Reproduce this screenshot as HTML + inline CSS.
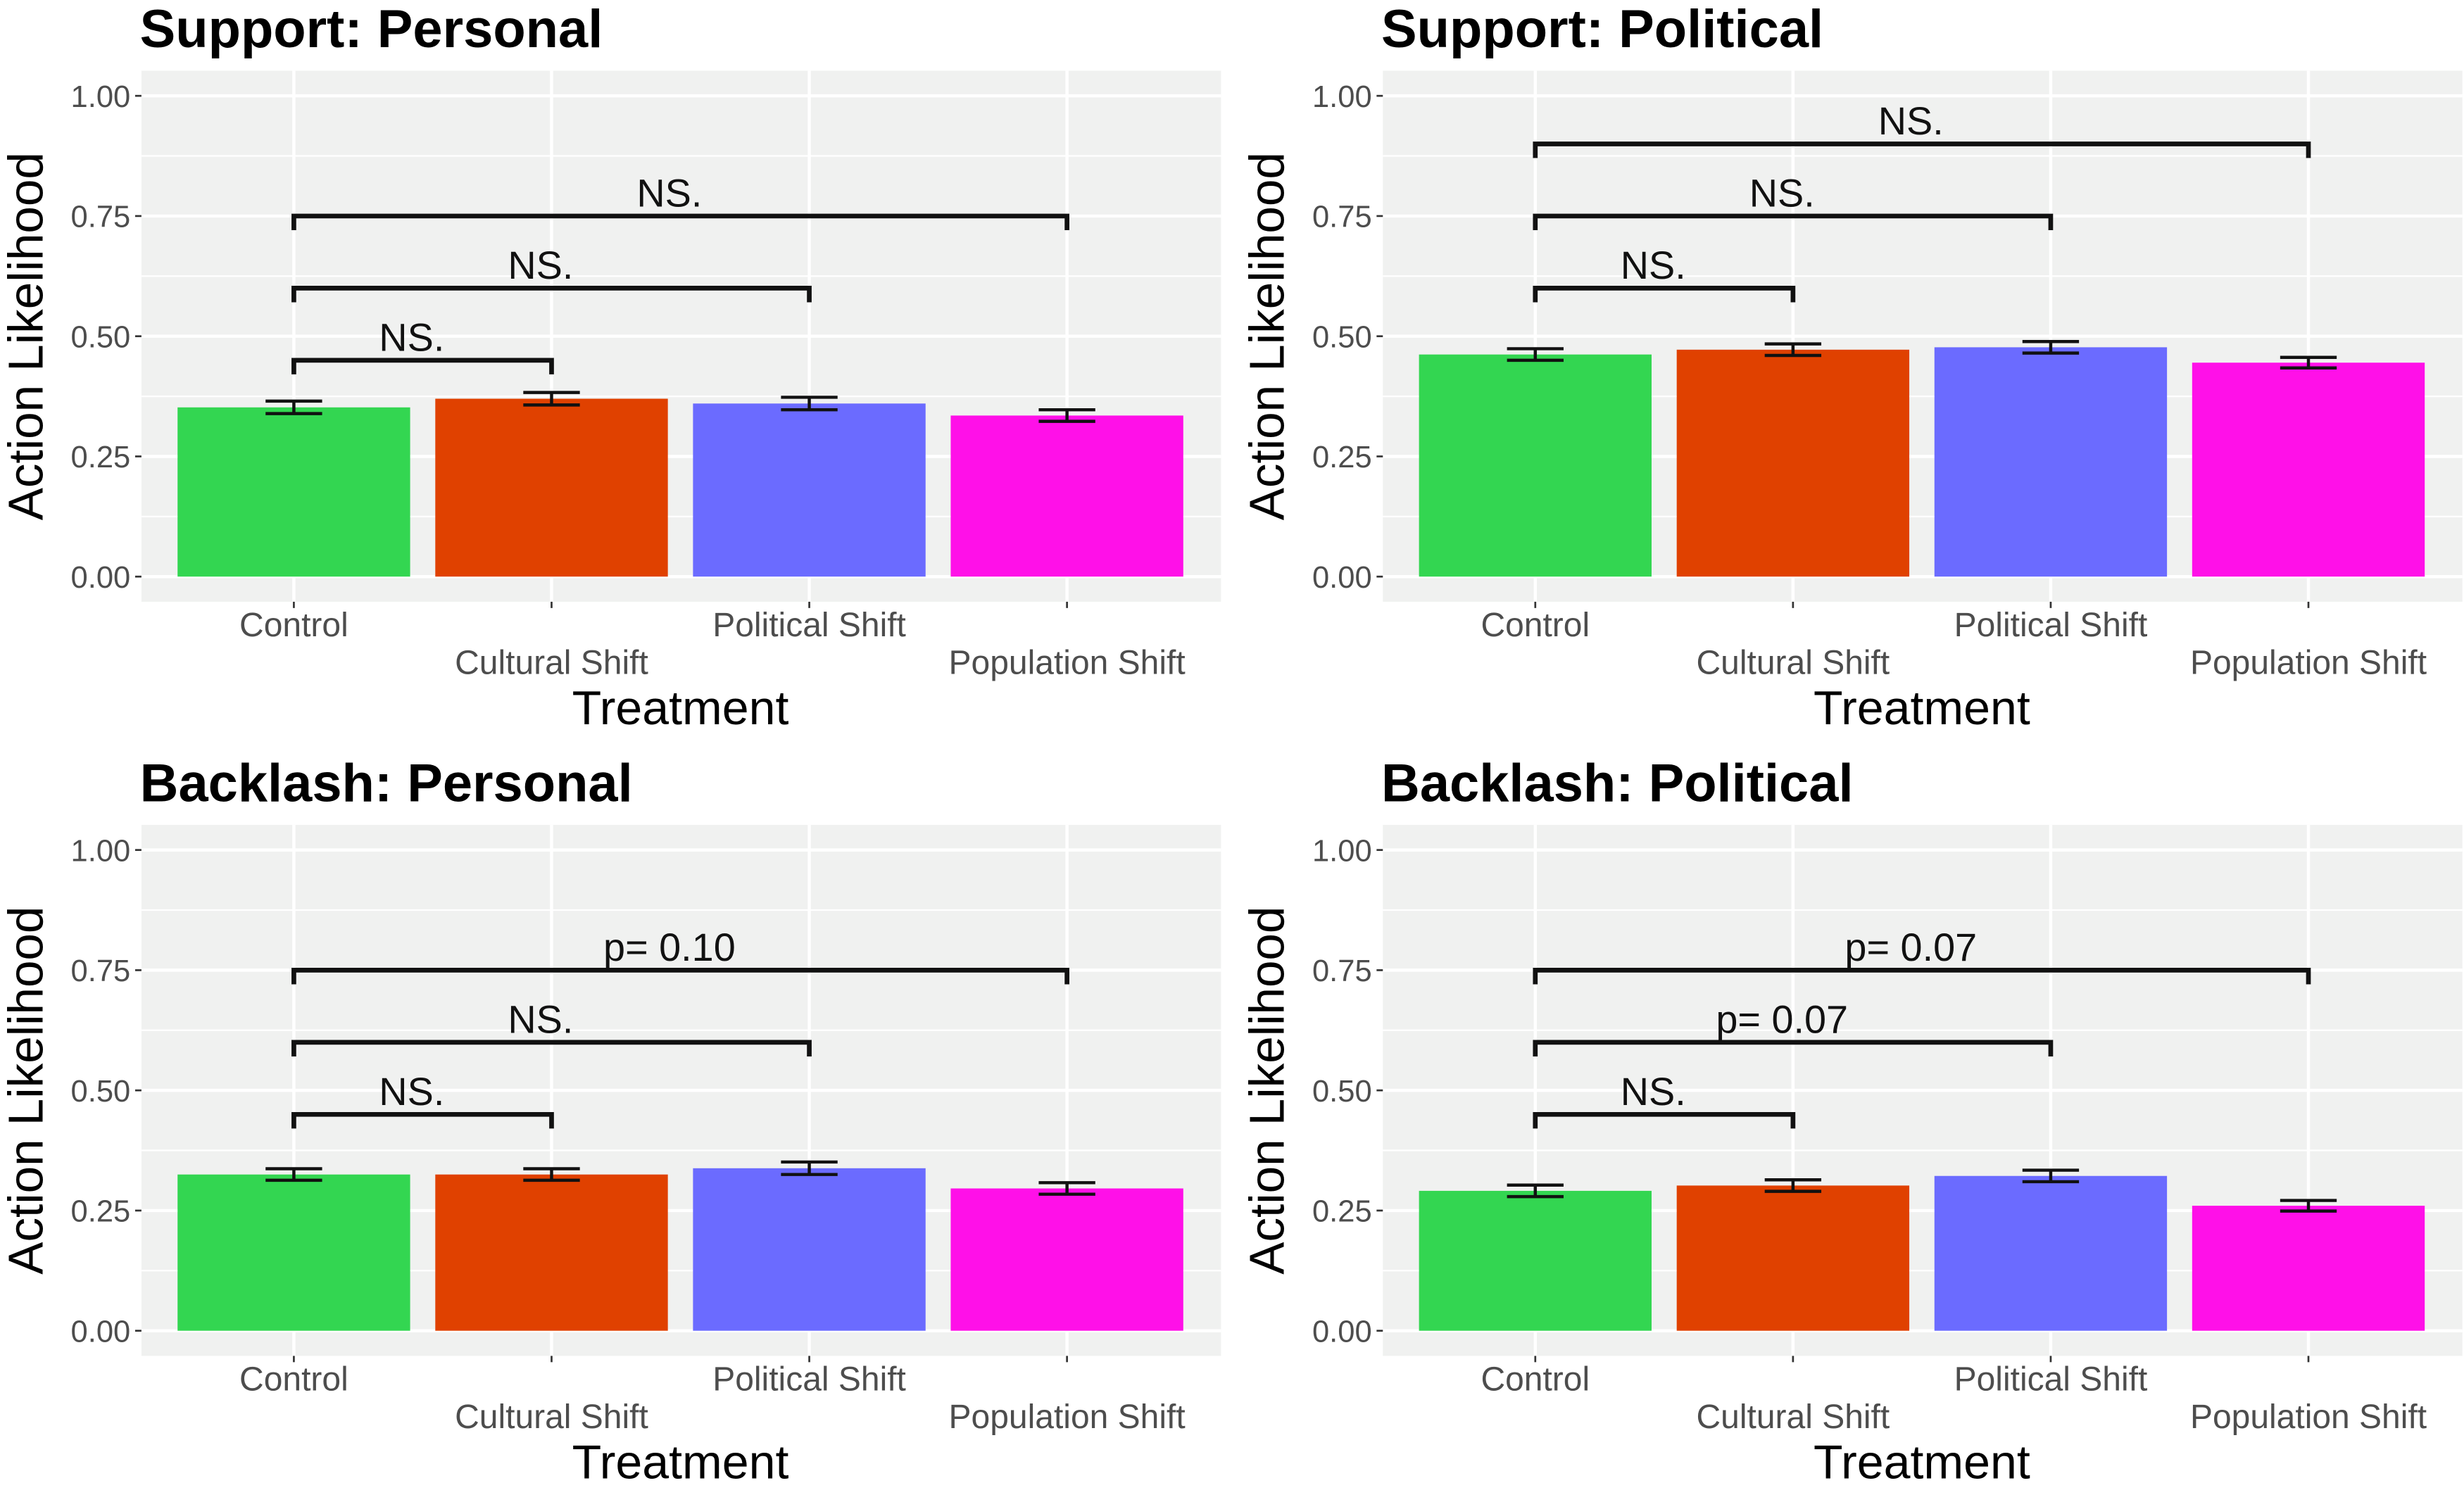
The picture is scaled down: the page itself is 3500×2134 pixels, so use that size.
<!DOCTYPE html>
<html><head><meta charset="utf-8"><style>
html,body{margin:0;padding:0;background:#fff;width:3500px;height:2134px;overflow:hidden}
svg{display:block}
text{font-family:"Liberation Sans",Arial,sans-serif}
</style></head><body>
<svg id="chart" width="3500" height="2134" viewBox="0 0 1568 956" preserveAspectRatio="none" xmlns="http://www.w3.org/2000/svg"></svg>
<script>
const categories = ["Control","Cultural Shift","Political Shift","Population Shift"];
const panelTitles = ["Support: Personal","Support: Political","Backlash: Personal","Backlash: Political"];
const valuesSupportPersonal = [0.352,0.370,0.360,0.335];
const valuesSupportPolitical = [0.462,0.472,0.477,0.445];
const valuesBacklashPersonal = [0.325,0.325,0.338,0.296];
const valuesBacklashPolitical = [0.291,0.302,0.322,0.260];
const errSupportPersonal = [0.013,0.013,0.013,0.012];
const errSupportPolitical = [0.012,0.012,0.012,0.011];
const errBacklashPersonal = [0.012,0.012,0.013,0.012];
const errBacklashPolitical = [0.012,0.012,0.012,0.011];
const bracketLevelsA = [0.45,0.60,0.75];
const bracketLevelsB = [0.60,0.75,0.90];
const labelsSupportPersonal = ["NS.","NS.","NS."];
const labelsSupportPolitical = ["NS.","NS.","NS."];
const labelsBacklashPersonal = ["NS.","NS.","p= 0.10"];
const labelsBacklashPolitical = ["NS.","p= 0.07","p= 0.07"];
const yTicks = [0,0.25,0.5,0.75,1.0];
const yTickLabels = ["0.00","0.25","0.50","0.75","1.00"];
const colors = ["#33D651","#E04100","#6B6BFF","#FF10E8"];

const panels = [
 {vals:valuesSupportPersonal,err:errSupportPersonal,lv:bracketLevelsA,lab:labelsSupportPersonal,ox:0,oy:0},
 {vals:valuesSupportPolitical,err:errSupportPolitical,lv:bracketLevelsB,lab:labelsSupportPolitical,ox:790,oy:0},
 {vals:valuesBacklashPersonal,err:errBacklashPersonal,lv:bracketLevelsA,lab:labelsBacklashPersonal,ox:0,oy:480},
 {vals:valuesBacklashPolitical,err:errBacklashPolitical,lv:bracketLevelsA,lab:labelsBacklashPolitical,ox:790,oy:480}
];
const NS="http://www.w3.org/2000/svg";
const svg=document.getElementById('chart');
function mk(tag,attrs,parent,txt){const e=document.createElementNS(NS,tag);for(const k in attrs)e.setAttribute(k,attrs[k]);if(txt!==undefined)e.textContent=txt;(parent||svg).appendChild(e);return e;}

panels.forEach((p,pi)=>{
  const g=mk('g',{});
  
  
  const x0=90+p.ox, x1=777+p.ox, top=45+p.oy, bot=383+p.oy;
  const yS=v=>367+p.oy-v*306;
  const xS=i=>187+p.ox+i*164;
  const bg=mk('rect',{x:x0,y:top,width:x1-x0,height:bot-top,fill:'#F0F1F0'},g);
  
  
  [0.125,0.375,0.625,0.875].forEach(v=>mk('line',{x1:x0,x2:x1,y1:yS(v),y2:yS(v),stroke:'#fff','stroke-width':1},g));
  yTicks.forEach((v,i)=>{
    mk('line',{x1:x0,x2:x1,y1:yS(v),y2:yS(v),stroke:'#fff','stroke-width':2},g);
    mk('line',{x1:x0-4,x2:x0,y1:yS(v),y2:yS(v),stroke:'#333','stroke-width':1.2},g);
    const t=mk('text',{x:x0-7,y:yS(v)+7,'text-anchor':'end','font-size':19.5,fill:'#4D4D4D'},g,yTickLabels[i]);
    
    
  });
  categories.forEach((c,i)=>{
    mk('line',{x1:xS(i),x2:xS(i),y1:top,y2:bot,stroke:'#fff','stroke-width':2},g);
    mk('line',{x1:xS(i),x2:xS(i),y1:bot,y2:bot+4,stroke:'#333','stroke-width':1.2},g);
    const t=mk('text',{x:xS(i),y:bot+(i%2?46:22),'text-anchor':'middle','font-size':21.5,fill:'#4D4D4D'},g,c);
    
    
  });
  p.vals.forEach((v,i)=>{
    const b=mk('rect',{x:xS(i)-74,y:yS(v),width:148,height:yS(0)-yS(v),fill:colors[i]},g);
    
    
    const e=p.err[i], hi=yS(v+e), lo=yS(v-e);
    const eb=mk('path',{d:`M${xS(i)-18},${hi}H${xS(i)+18}M${xS(i)},${hi}V${lo}M${xS(i)-18},${lo}H${xS(i)+18}`,stroke:'#111','stroke-width':2,fill:'none'},g);
    
    
  });
  p.lv.forEach((lv,k)=>{
    const xa=xS(0), xb=xS(k+1), y=yS(lv);
    const br=mk('path',{d:`M${xa},${y+9}V${y}H${xb}V${y+9}`,stroke:'#111','stroke-width':3,fill:'none'},g);
    
    
    const t=mk('text',{x:(xa+xb)/2-7,y:y-6,'text-anchor':'middle','font-size':25,fill:'#111'},g,p.lab[k]);
    
    
  });
  const tt=mk('text',{x:x0-1,y:30+p.oy,'font-size':34,'font-weight':'bold',fill:'#000'},g,panelTitles[pi]);
  
  
  const yt=mk('text',{x:0,y:0,transform:`translate(${27+p.ox},${214+p.oy}) rotate(-90)`,'text-anchor':'middle','font-size':31,fill:'#000'},g,'Action Likelihood');
  
  
  const xt=mk('text',{x:433+p.ox,y:461+p.oy,'text-anchor':'middle','font-size':30.5,fill:'#000'},g,'Treatment');
  
  
});
</script>
</body></html>
